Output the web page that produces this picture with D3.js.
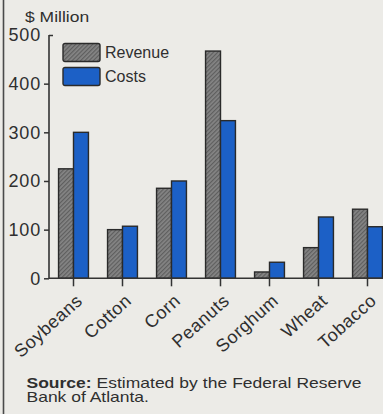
<!DOCTYPE html>
<html>
<head>
<meta charset="utf-8">
<script src="https://cdn.jsdelivr.net/npm/d3@7"></script>
<style>
  html, body { margin: 0; padding: 0; background: #ecebe7; }
  svg { display: block; }
  text { font-family: "Liberation Sans", Arial, Helvetica, sans-serif; fill: #2f2f2f; }
</style>
</head>
<body>
<svg id="chart" width="383" height="414"></svg>
<script>
// Farm crops: estimated revenue vs. costs, $ million
const crops = ["Soybeans", "Cotton", "Corn", "Peanuts", "Sorghum", "Wheat", "Tobacco"];
const revenue = [225, 100, 185, 467, 13, 63, 142];
const costs = [300, 107, 200, 324, 33, 126, 106];
const seriesNames = ["Revenue", "Costs"];
const yTicks = [0, 100, 200, 300, 400, 500];

const svg = d3.select("#chart");
const W = 383, H = 414;

// hatched grey fill for revenue bars
const defs = svg.append("defs");
const pat = defs.append("pattern")
  .attr("id", "hatch")
  .attr("patternUnits", "userSpaceOnUse")
  .attr("width", 3).attr("height", 3)
  .attr("patternTransform", "rotate(45)");
pat.append("rect").attr("width", 3).attr("height", 3).attr("fill", "#858585");
pat.append("rect").attr("width", 1.2).attr("height", 3).attr("fill", "#5e5e5e");

const colors = { Revenue: "url(#hatch)", Costs: "#1c60c6" };

// page edge line on the left
svg.append("line")
  .attr("x1", 3.5).attr("x2", 3.5).attr("y1", 0).attr("y2", H)
  .attr("stroke", "#4a4a4a").attr("stroke-width", 1.6);

const x0 = 49, yBase = 278.3, yTop = 35;
const y = d3.scaleLinear().domain([0, 500]).range([yBase, yTop]);
const x = d3.scaleBand().domain(crops).range([x0, x0 + 49 * crops.length]).paddingInner(0.39).paddingOuter(0.195);
const xs = d3.scaleBand().domain(seriesNames).range([0, x.bandwidth()]);

// bars
const groups = svg.append("g").selectAll("g").data(crops).join("g")
  .attr("transform", d => `translate(${x(d)},0)`);
groups.selectAll("rect")
  .data((d, i) => [{ s: "Revenue", v: revenue[i] }, { s: "Costs", v: costs[i] }])
  .join("rect")
  .attr("x", d => xs(d.s))
  .attr("y", d => y(d.v))
  .attr("width", xs.bandwidth())
  .attr("height", d => yBase - y(d.v))
  .attr("fill", d => colors[d.s])
  .attr("stroke", "#2a2a2a")
  .attr("stroke-width", 1.4);

// y axis
const yAxis = svg.append("g")
  .attr("transform", `translate(${x0},0)`)
  .call(d3.axisLeft(y).tickValues(yTicks).tickSize(5).tickPadding(3).tickFormat(d3.format("d")));
yAxis.select(".domain").remove();
yAxis.selectAll(".tick line").attr("stroke", "#333").attr("stroke-width", 1.5);
yAxis.selectAll(".tick text")
  .style("font-size", "18px").style("letter-spacing", "0.8px").attr("fill", "#333");
yAxis.selectAll(".tick").filter(d => d === 500).select("line").attr("x2", 4);
svg.append("line")
  .attr("x1", x0).attr("x2", x0).attr("y1", y(500)).attr("y2", yBase)
  .attr("stroke", "#333").attr("stroke-width", 1.6);

// baseline and category ticks
svg.append("line")
  .attr("x1", x0).attr("x2", W).attr("y1", yBase).attr("y2", yBase)
  .attr("stroke", "#333").attr("stroke-width", 1.6);
const xAxis = svg.append("g")
  .attr("transform", `translate(0,${yBase})`)
  .call(d3.axisBottom(x).tickSize(8).tickPadding(0));
xAxis.select(".domain").remove();
xAxis.selectAll(".tick line").attr("stroke", "#333").attr("stroke-width", 1.5);
xAxis.selectAll(".tick text")
  .attr("text-anchor", "end")
  .attr("transform", "translate(10,24) rotate(-42)")
  .attr("dy", 0).attr("y", 0)
  .style("font-size", "18px").style("letter-spacing", "0.5px").attr("fill", "#333");

// unit label
svg.append("text").attr("transform", "translate(25,21.5) scale(1.25,1)")
  .style("font-size", "14px").text("$ Million");

// legend
const legend = svg.append("g").selectAll("g").data(seriesNames).join("g")
  .attr("transform", (d, i) => `translate(63,${43.5 + i * 24})`);
legend.append("rect")
  .attr("width", 37).attr("height", 18).attr("rx", 2)
  .attr("fill", d => colors[d]).attr("stroke", "#2a2a2a").attr("stroke-width", 1.4);
legend.append("text").attr("x", 42).attr("y", 14.5)
  .style("font-size", "16px").text(d => d);

// source note in a wide face; first line justified across the column
const sx = 1.25, left = 26.5, right = 361.5;
const src = svg.append("text")
  .attr("transform", `translate(${left},387.5) scale(${sx},1)`)
  .style("font-size", "14px");
src.append("tspan").style("font-weight", "bold").text("Source:");
src.append("tspan").text(" Estimated by the Federal Reserve");
const natural = src.node().getComputedTextLength();
const target = (right - left) / sx;
if (natural < target) {
  src.attr("word-spacing", ((target - natural) / 5).toFixed(2) + "px");
} else {
  src.attr("textLength", target).attr("lengthAdjust", "spacingAndGlyphs");
}
svg.append("text")
  .attr("transform", `translate(${left},401.5) scale(${sx},1)`)
  .style("font-size", "14px").text("Bank of Atlanta.");
</script>
</body>
</html>
